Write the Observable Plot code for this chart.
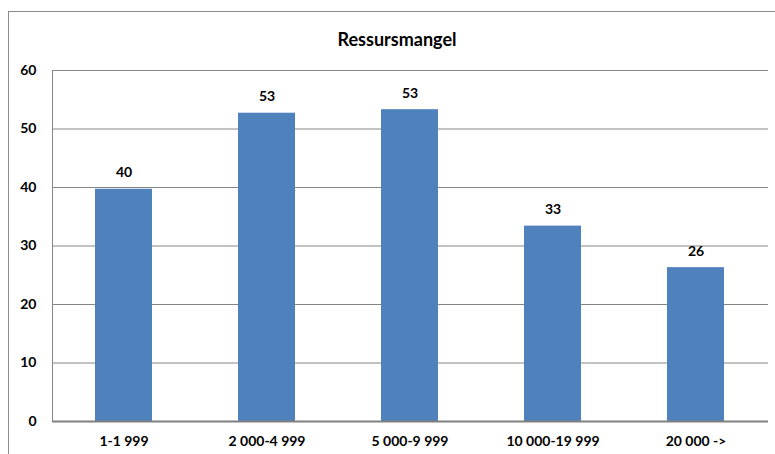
<!DOCTYPE html>
<html>
<head>
<meta charset="utf-8">
<script src="https://cdn.jsdelivr.net/npm/d3@7"></script>
<script src="https://cdn.jsdelivr.net/npm/@observablehq/plot@0.6"></script>
<style>
  html, body { margin: 0; padding: 0; background: #fff; overflow: hidden; width: 775px; height: 454px; }
  #frame { position: absolute; left: 8px; top: 11px; width: 800px; height: 500px; border: 1px solid #8c8c8c; box-sizing: border-box; }
  #title { position: absolute; left: 8px; width: 778px; top: 28px; line-height: 18px; text-align: center; font: bold 18px Lato, sans-serif; color: #000; }
  #chart { position: absolute; left: 0; top: 0; }
</style>
</head>
<body>
<div id="frame"></div>
<div id="chart"></div>
<div id="title">Ressursmangel</div>
<script>
const categories = ["1-1 999", "2 000-4 999", "5 000-9 999", "10 000-19 999", "20 000 ->"];
const values = [39.7, 52.7, 53.3, 33.4, 26.3];
const yTicks = [0, 10, 20, 30, 40, 50, 60];

const data = categories.map((c, i) => ({category: c, value: values[i]}));

const chart = Plot.plot({
  width: 775,
  height: 454,
  marginLeft: 52,
  marginRight: 7,
  marginTop: 70,
  marginBottom: 33,
  style: {fontFamily: "Lato, sans-serif", fontSize: "14px", fontWeight: "bold", color: "#000", background: "transparent", overflow: "visible"},
  x: {domain: categories, paddingInner: 0.6, paddingOuter: 0.3, label: null},
  y: {domain: [0, 60], label: null},
  marks: [
    Plot.gridY(yTicks, {stroke: "#868686", strokeOpacity: 1, strokeWidth: 1}),
    Plot.barY(data, {x: "category", y: "value", fill: "#4F81BD"}),
    Plot.ruleY([0], {stroke: "#808080", strokeWidth: 2}),
    Plot.axisY({ticks: yTicks, tickSize: 0, tickPadding: 16, fontWeight: "bold", fontSize: 14, fill: "#000"}),
    Plot.axisX({tickSize: 0, tickPadding: 15, fontWeight: "bold", fontSize: 14, fill: "#000"}),
    Plot.frame({anchor: "left", stroke: "#868686", strokeOpacity: 1}),
    Plot.text(data, {x: "category", y: "value", text: d => d3.format(".0f")(d.value), lineAnchor: "bottom", dy: -12, fontWeight: "bold", fontSize: 14, fill: "#000"})
  ]
});
document.getElementById("chart").appendChild(chart);
</script>
</body>
</html>
